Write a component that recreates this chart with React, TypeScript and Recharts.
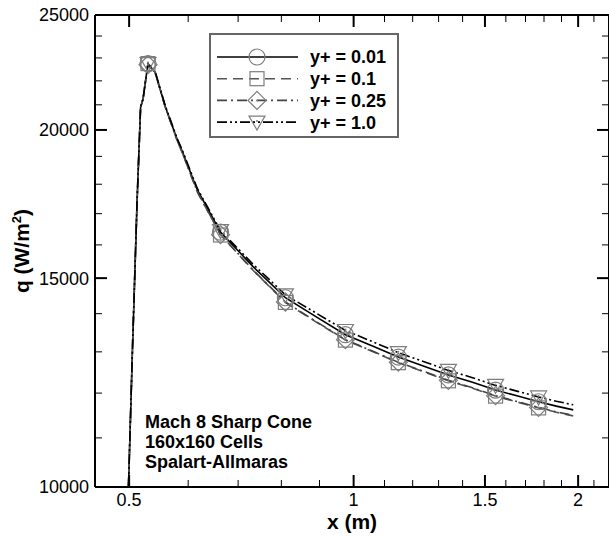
import React from "react";
import { Legend, Line, LineChart, XAxis, YAxis } from "recharts";

// x (m) sample positions along the cone
const xValues = [
  0.499, 0.505, 0.5125, 0.518, 0.522, 0.526, 0.53, 0.542, 0.559, 0.58, 0.59, 0.617, 0.663, 0.7, 0.733,
  0.77, 0.81, 0.89, 0.975, 1.06, 1.148, 1.24, 1.34, 1.44, 1.55, 1.66, 1.77, 1.87, 1.97,
];

// heat flux q (W/m^2) for each y+ case
const yPlus001 = [
  10000, 12970, 17460, 20900, 21250, 22000, 22750, 22360, 20930, 19630, 19140, 17810, 16400, 15820, 15340,
  14890, 14440, 13920, 13440, 13150, 12870, 12650, 12430, 12260, 12070, 11930, 11800, 11700, 11615,
];
const yPlus01 = [
  10000, 12970, 17460, 20900, 21250, 22000, 22750, 22360, 20910, 19590, 19090, 17740, 16310, 15720, 15230,
  14770, 14310, 13780, 13300, 13010, 12730, 12510, 12290, 12120, 11930, 11790, 11660, 11560, 11480,
];
const yPlus025 = [
  10000, 12970, 17460, 20900, 21250, 22000, 22700, 22330, 20910, 19600, 19100, 17750, 16320, 15730, 15240,
  14780, 14320, 13790, 13310, 13020, 12740, 12520, 12300, 12130, 11940, 11800, 11670, 11570, 11490,
];
const yPlus10 = [
  10000, 12970, 17460, 20900, 21250, 22000, 22750, 22380, 20960, 19670, 19190, 17860, 16450, 15880, 15410,
  14970, 14520, 14020, 13550, 13260, 12980, 12760, 12540, 12370, 12180, 12040, 11910, 11810, 11730,
];

// x positions where symbols are drawn
const markerX = [0.53, 0.663, 0.81, 0.975, 1.148, 1.34, 1.55, 1.77];

const xMajorTicks = [0.5, 1, 1.5, 2];
const xMinorTicks = [0.6, 0.7, 0.8, 0.9, 1.1, 1.2, 1.3, 1.4, 1.6, 1.7, 1.8, 1.9, 2.1];
const yMajorTicks = [10000, 15000, 20000, 25000];
const yMinorTicks = [11000, 12000, 13000, 14000, 16000, 17000, 18000, 19000, 21000, 22000, 23000, 24000];

const seriesLabels = ["y+ = 0.01", "y+ = 0.1", "y+ = 0.25", "y+ = 1.0"];
const noteLines = ["Mach 8 Sharp Cone", "160x160 Cells", "Spalart-Allmaras"];

const FONT = "'Liberation Sans', Arial, Helvetica, sans-serif";
const MARK = "#7d7d7d";

const data = xValues.map((x, i) => ({
  x,
  a: yPlus001[i],
  b: yPlus01[i],
  c: yPlus025[i],
  d: yPlus10[i],
}));

const series = [
  { key: "a", label: seriesLabels[0], stroke: "#000", dash: undefined, shape: "circle" },
  { key: "b", label: seriesLabels[1], stroke: "#555", dash: "10 6", shape: "square" },
  { key: "c", label: seriesLabels[2], stroke: "#444", dash: "10 4 2 4", shape: "diamond" },
  { key: "d", label: seriesLabels[3], stroke: "#000", dash: "10 3 2 3 2 3", shape: "triangle" },
];

function Marker({ shape, cx, cy }: { shape: string; cx: number; cy: number }) {
  if (shape === "circle") return <circle cx={cx} cy={cy} r={8} fill="none" stroke={MARK} strokeWidth={1.2} />;
  if (shape === "square")
    return <rect x={cx - 7} y={cy - 7} width={14} height={14} fill="none" stroke={MARK} strokeWidth={1.2} />;
  if (shape === "diamond")
    return (
      <g>
        <polygon
          points={`${cx},${cy - 9} ${cx + 9},${cy} ${cx},${cy + 9} ${cx - 9},${cy}`}
          fill="none"
          stroke={MARK}
          strokeWidth={1.2}
        />
        <circle cx={cx} cy={cy} r={1} fill={MARK} />
      </g>
    );
  return (
    <g>
      <polygon
        points={`${cx - 8},${cy - 6} ${cx + 8},${cy - 6} ${cx},${cy + 8}`}
        fill="none"
        stroke={MARK}
        strokeWidth={1.2}
      />
      <circle cx={cx} cy={cy - 1} r={1} fill={MARK} />
    </g>
  );
}

function BottomTick({ x, y, payload }: any) {
  const major = xMajorTicks.includes(payload.value);
  return (
    <g>
      <line x1={x} x2={x} y1={y} y2={y - (major ? 12 : 7)} stroke="#000" strokeWidth={major ? 2 : 1} />
      {major && (
        <text x={x} y={y + 19} textAnchor="middle" fontSize={18} fontFamily={FONT} fill="#000">
          {payload.value}
        </text>
      )}
    </g>
  );
}

function TopTick({ x, y, payload }: any) {
  const major = xMajorTicks.includes(payload.value);
  return <line x1={x} x2={x} y1={y} y2={y + (major ? 12 : 7)} stroke="#000" strokeWidth={major ? 2 : 1} />;
}

function LeftTick({ x, y, payload }: any) {
  const major = yMajorTicks.includes(payload.value);
  return (
    <g>
      <line x1={x} x2={x + (major ? 12 : 7)} y1={y} y2={y} stroke="#000" strokeWidth={major ? 2 : 1} />
      {major && (
        <text x={x - 6} y={y + 6.4} textAnchor="end" fontSize={18} fontFamily={FONT} fill="#000">
          {payload.value}
        </text>
      )}
    </g>
  );
}

function RightTick({ x, y, payload }: any) {
  const major = yMajorTicks.includes(payload.value);
  return <line x1={x} x2={x - (major ? 12 : 7)} y1={y} y2={y} stroke="#000" strokeWidth={major ? 2 : 1} />;
}

function XTitle({ viewBox }: any) {
  const vb = viewBox || { x: 95, y: 487, width: 514 };
  return (
    <text x={vb.x + vb.width / 2} y={vb.y + 42} textAnchor="middle" fontSize={21} fontWeight="bold" fontFamily={FONT}>
      x (m)
    </text>
  );
}

function YTitle({ viewBox }: any) {
  const vb = viewBox || { y: 15, height: 472 };
  const cy = vb.y + vb.height / 2;
  return (
    <text
      transform={`translate(28.6,${cy}) rotate(-90)`}
      textAnchor="middle"
      fontSize={21}
      fontWeight="bold"
      fontFamily={FONT}
    >
      q (W/m
      <tspan dy={-8} fontSize={13}>
        2
      </tspan>
      <tspan dy={8}>)</tspan>
    </text>
  );
}

function LegendBox() {
  return (
    <svg width={190} height={105} style={{ display: "block" }}>
      <rect x={1} y={1} width={188} height={103} fill="#fff" stroke="#666" strokeWidth={2} />
      {series.map((s, i) => {
        const cy = 24 + i * 21.7;
        return (
          <g key={s.key}>
            <line x1={8} x2={89} y1={cy} y2={cy} stroke={s.stroke} strokeWidth={1.6} strokeDasharray={s.dash} />
            <Marker shape={s.shape} cx={48} cy={cy} />
            <text x={101} y={cy + 6.4} fontSize={18} fontWeight="bold" fontFamily={FONT} fill="#000">
              {s.label}
            </text>
          </g>
        );
      })}
    </svg>
  );
}

export default function App() {
  const xTicks = [...xMajorTicks, ...xMinorTicks].sort((p, q) => p - q);
  const yTicks = [...yMajorTicks, ...yMinorTicks].sort((p, q) => p - q);
  const axisLine = { stroke: "#000", strokeWidth: 2 };

  return (
    <div style={{ position: "absolute", left: 0, top: 0, width: 609, height: 536, background: "#fff", overflow: "hidden" }}>
      <LineChart width={610} height={536} data={data} margin={{ top: 0, right: 0, bottom: 0, left: 0 }}>
        <XAxis
          xAxisId="bottom"
          dataKey="x"
          type="number"
          scale="log"
          domain={[0.45, 2.2]}
          allowDataOverflow
          ticks={xTicks}
          interval={0}
          height={49}
          tickSize={0}
          tickMargin={0}
          tickLine={false}
          axisLine={axisLine}
          tick={<BottomTick />}
          label={<XTitle />}
        />
        <XAxis
          xAxisId="top"
          orientation="top"
          dataKey="x"
          type="number"
          scale="log"
          domain={[0.45, 2.2]}
          allowDataOverflow
          ticks={xTicks}
          interval={0}
          height={15}
          tickSize={0}
          tickMargin={0}
          tickLine={false}
          axisLine={axisLine}
          tick={<TopTick />}
        />
        <YAxis
          yAxisId="left"
          type="number"
          scale="log"
          domain={[10000, 25000]}
          allowDataOverflow
          ticks={yTicks}
          interval={0}
          width={95}
          tickSize={0}
          tickMargin={0}
          tickLine={false}
          axisLine={axisLine}
          tick={<LeftTick />}
          label={<YTitle />}
        />
        <YAxis
          yAxisId="right"
          orientation="right"
          type="number"
          scale="log"
          domain={[10000, 25000]}
          allowDataOverflow
          ticks={yTicks}
          interval={0}
          width={1}
          tickSize={0}
          tickMargin={0}
          tickLine={false}
          axisLine={axisLine}
          tick={<RightTick />}
        />
        <Legend
          layout="vertical"
          align="center"
          verticalAlign="middle"
          wrapperStyle={{ left: 209, top: 33, width: 190, height: 105 }}
          content={<LegendBox />}
        />
        {series.map((s) => (
          <Line
            key={s.key}
            xAxisId="bottom"
            yAxisId="left"
            dataKey={s.key}
            type="linear"
            stroke={s.stroke}
            strokeWidth={1.6}
            strokeDasharray={s.dash}
            isAnimationActive={false}
            activeDot={false}
            dot={(p: any) =>
              markerX.includes(p.payload.x) ? (
                <Marker key={`${s.key}-${p.index}`} shape={s.shape} cx={p.cx} cy={p.cy} />
              ) : (
                <g key={`${s.key}-${p.index}`} />
              )
            }
          />
        ))}
      </LineChart>
      <div
        style={{
          position: "absolute",
          left: 145,
          top: 412,
          fontFamily: FONT,
          fontWeight: "bold",
          fontSize: 18,
          lineHeight: "20px",
          color: "#000",
        }}
      >
        {noteLines.map((t) => (
          <div key={t}>{t}</div>
        ))}
      </div>
    </div>
  );
}
